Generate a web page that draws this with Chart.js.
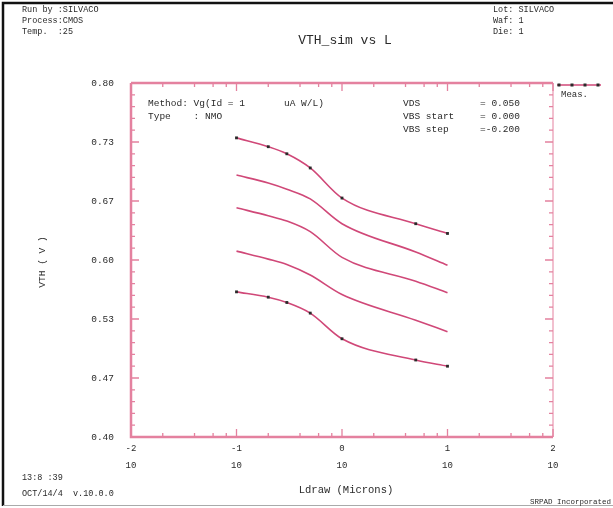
<!DOCTYPE html>
<html>
<head>
<meta charset="utf-8">
<script src="https://cdn.jsdelivr.net/npm/chart.js@4.4.1/dist/chart.umd.min.js"></script>
<style>
  html, body { margin: 0; padding: 0; background: #ffffff; }
  canvas { display: block; }
</style>
</head>
<body>
<canvas id="c" width="613" height="508"></canvas>
<script>
// Drawn gate length (microns)
const lengths = [0.1, 0.2, 0.3, 0.5, 1, 5, 10];

// Threshold voltage (V) per bulk bias step, VBS = 0 ... -0.8 V
const vthVbs0  = [0.564, 0.558, 0.552, 0.540, 0.511, 0.487, 0.480];
const vthVbs02 = [0.610, 0.601, 0.595, 0.583, 0.561, 0.532, 0.519];
const vthVbs04 = [0.659, 0.650, 0.644, 0.632, 0.603, 0.576, 0.563];
const vthVbs06 = [0.696, 0.687, 0.680, 0.669, 0.641, 0.609, 0.594];
const vthVbs08 = [0.738, 0.728, 0.720, 0.704, 0.670, 0.641, 0.630];

// Axis ticks
const xTicks = [0.01, 0.1, 1, 10, 100];
const xTickExponents = ['-2', '-1', '0', '1', '2'];
const yTicks = [0.40, 0.46667, 0.53333, 0.60, 0.66667, 0.73333, 0.80];
const yTickLabels = ['0.40', '0.47', '0.53', '0.60', '0.67', '0.73', '0.80'];

const AXIS = '#e4819f';
const CURVE = '#d04878';
const INK = '#2a2a2a';
const MONO = '"Liberation Mono", "DejaVu Sans Mono", monospace';

function series(values, measured) {
  return {
    data: lengths.map((l, i) => ({ x: l, y: values[i] })),
    borderColor: CURVE,
    borderWidth: 1.6,
    cubicInterpolationMode: 'monotone',
    pointStyle: 'rect',
    pointRadius: measured ? 2 : 0,
    pointBackgroundColor: INK,
    pointBorderColor: INK,
    pointBorderWidth: 0,
    fill: false
  };
}

function text(ctx, s, x, y, size, align) {
  ctx.font = size + 'px ' + MONO;
  ctx.textAlign = align || 'left';
  ctx.fillText(s, x, y);
}

// Frame, inward ticks on all four sides and the sheet annotations
const sheet = {
  id: 'sheet',
  afterDraw(chart) {
    const { ctx, chartArea: a, scales: { x, y } } = chart;
    ctx.save();

    // outer page frame
    ctx.strokeStyle = '#111';
    ctx.lineWidth = 2.5;
    ctx.beginPath();
    ctx.moveTo(3, 506); ctx.lineTo(3, 3); ctx.lineTo(613, 3);
    ctx.stroke();
    ctx.strokeStyle = '#aaa';
    ctx.lineWidth = 1;
    ctx.beginPath();
    ctx.moveTo(3, 505.5); ctx.lineTo(613, 505.5);
    ctx.stroke();

    // plot box
    ctx.strokeStyle = AXIS;
    ctx.lineWidth = 2.5;
    ctx.beginPath();
    ctx.moveTo(a.left, a.top); ctx.lineTo(a.left, a.bottom); ctx.lineTo(a.right, a.bottom);
    ctx.moveTo(a.left, a.top); ctx.lineTo(a.right, a.top);
    ctx.stroke();
    ctx.lineWidth = 1;
    ctx.beginPath();
    ctx.moveTo(a.right, a.top); ctx.lineTo(a.right, a.bottom);
    ctx.stroke();

    // x ticks (log decades, minors at 2,4,6,8)
    ctx.lineWidth = 1.3;
    ctx.beginPath();
    xTicks.forEach((d, k) => {
      const px = x.getPixelForValue(d);
      ctx.moveTo(px, a.bottom); ctx.lineTo(px, a.bottom - 8);
      ctx.moveTo(px, a.top); ctx.lineTo(px, a.top + 8);
      if (k < xTicks.length - 1) {
        [2, 4, 6, 8].forEach(m => {
          const q = x.getPixelForValue(d * m);
          ctx.moveTo(q, a.bottom); ctx.lineTo(q, a.bottom - 4);
          ctx.moveTo(q, a.top); ctx.lineTo(q, a.top + 4);
        });
      }
    });
    // y ticks (majors with five subdivisions)
    const step = (yTicks[yTicks.length - 1] - yTicks[0]) / 30;
    for (let i = 0; i <= 30; i++) {
      const py = y.getPixelForValue(yTicks[0] + i * step);
      const len = i % 5 === 0 ? 8 : 4;
      ctx.moveTo(a.left, py); ctx.lineTo(a.left + len, py);
      ctx.moveTo(a.right, py); ctx.lineTo(a.right - len, py);
    }
    ctx.stroke();

    // legend sample for measured points
    const ly = a.top + 2;
    ctx.strokeStyle = CURVE;
    ctx.lineWidth = 1.4;
    ctx.beginPath();
    ctx.moveTo(a.right + 4, ly); ctx.lineTo(a.right + 48, ly);
    ctx.stroke();
    ctx.fillStyle = INK;
    [a.right + 6, a.right + 19, a.right + 32, a.right + 45].forEach(mx => {
      ctx.fillRect(mx - 1.5, ly - 1.5, 3, 3);
    });

    ctx.fillStyle = INK;
    ctx.textBaseline = 'middle';
    text(ctx, 'Meas.', a.right + 8, 95, 9);

    // header block
    text(ctx, 'Run by :SILVACO', 22, 10, 8.5);
    text(ctx, 'Process:CMOS', 22, 21, 8.5);
    text(ctx, 'Temp.  :25', 22, 32, 8.5);
    text(ctx, 'Lot: SILVACO', 493, 10, 8.5);
    text(ctx, 'Waf: 1', 493, 21, 8.5);
    text(ctx, 'Die: 1', 493, 32, 8.5);
    text(ctx, '13:8 :39', 22, 478, 8.5);
    text(ctx, 'OCT/14/4  v.10.0.0', 22, 494, 8.5);
    text(ctx, 'SRPAD Incorporated', 530, 502, 7.5);

    // extraction settings
    text(ctx, 'Method: Vg(Id = 1', 148, 103, 9.5);
    text(ctx, 'uA W/L)', 284, 103, 9.5);
    text(ctx, 'Type    : NMO', 148, 116, 9.5);
    text(ctx, 'VDS', 403, 103, 9.5);
    text(ctx, 'VBS start', 403, 116, 9.5);
    text(ctx, 'VBS step', 403, 129, 9.5);
    text(ctx, '= 0.050', 480, 103, 9.5);
    text(ctx, '= 0.000', 480, 116, 9.5);
    text(ctx, '=-0.200', 480, 129, 9.5);

    // title and axis names
    text(ctx, 'VTH_sim vs L', 345, 41, 13, 'center');
    text(ctx, 'Ldraw (Microns)', 346, 490, 10.5, 'center');
    ctx.save();
    ctx.translate(42, 262);
    ctx.rotate(-Math.PI / 2);
    text(ctx, 'VTH ( V )', 0, 0, 9.5, 'center');
    ctx.restore();

    ctx.restore();
  }
};

new Chart(document.getElementById('c'), {
  type: 'line',
  data: {
    datasets: [
      series(vthVbs08, true),
      series(vthVbs06, false),
      series(vthVbs04, false),
      series(vthVbs02, false),
      series(vthVbs0, true)
    ]
  },
  options: {
    responsive: false,
    devicePixelRatio: 1,
    animation: false,
    layout: { padding: { left: 0, top: 83, right: 60, bottom: 31 } },
    plugins: { legend: { display: false }, tooltip: { enabled: false } },
    scales: {
      x: {
        type: 'logarithmic',
        min: 0.01,
        max: 100,
        grid: { display: false, drawTicks: false },
        border: { display: false },
        afterBuildTicks: s => { s.ticks = xTicks.map(v => ({ value: v })); },
        afterFit: s => { s.height = 40; },
        ticks: {
          autoSkip: false,
          maxRotation: 0,
          padding: 4,
          color: INK,
          font: { family: MONO, size: 9, lineHeight: 1.8 },
          callback: (v) => [xTickExponents[xTicks.indexOf(v)], '10']
        }
      },
      y: {
        type: 'linear',
        min: 0.4,
        max: 0.8,
        grid: { display: false, drawTicks: false },
        border: { display: false },
        afterBuildTicks: s => { s.ticks = yTicks.map(v => ({ value: v })); },
        afterFit: s => { s.width = 131; },
        ticks: {
          padding: 17,
          color: INK,
          font: { family: MONO, size: 9.5 },
          callback: (v) => yTickLabels[yTicks.indexOf(v)]
        }
      }
    }
  },
  plugins: [sheet]
});
</script>
</body>
</html>
